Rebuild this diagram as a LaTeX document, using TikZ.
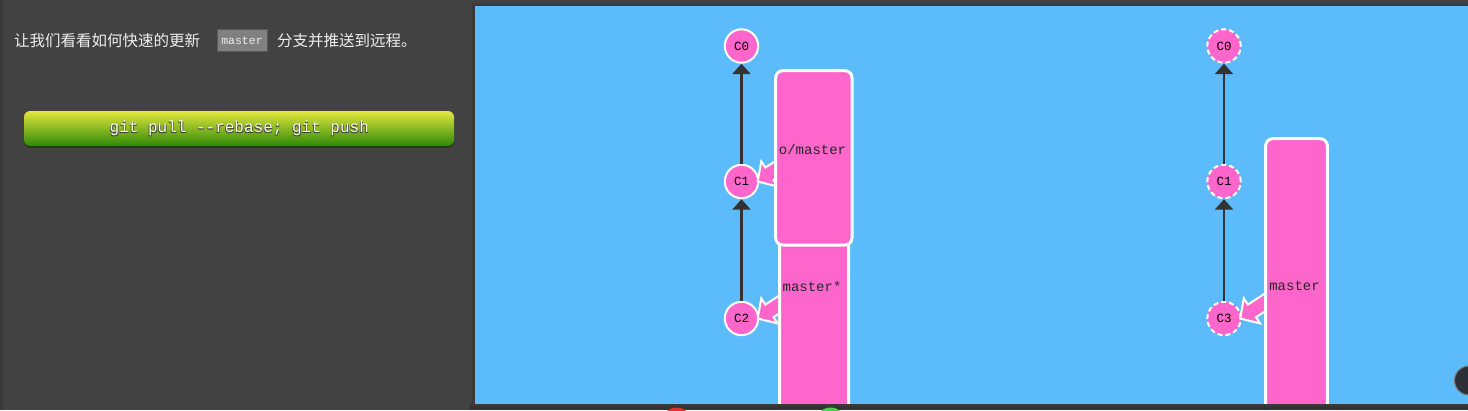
\documentclass[tikz,border=0pt]{standalone}
\usepackage{fontspec}
\setmonofont{Liberation Mono}
\newfontfamily\cjk{Noto Sans CJK SC}
\usetikzlibrary{arrows.meta}
\definecolor{bgdark}{RGB}{66,66,66}
\definecolor{edgedark}{RGB}{58,58,58}
\definecolor{stripdark}{RGB}{51,51,51}
\definecolor{panelblue}{RGB}{92,187,251}
\definecolor{commitpink}{RGB}{255,102,204}
\definecolor{linkgray}{RGB}{51,51,51}
\definecolor{textwhite}{RGB}{238,238,238}
\definecolor{tagfill}{RGB}{128,128,128}
\definecolor{tagline}{RGB}{90,90,90}
\definecolor{btntop}{RGB}{226,232,60}
\definecolor{btnmid}{RGB}{138,190,30}
\definecolor{btnbot}{RGB}{46,136,8}
\definecolor{btnshadow}{RGB}{34,50,20}
\definecolor{knobdark}{RGB}{45,48,56}
\definecolor{knobrim}{RGB}{120,120,125}
\definecolor{dotred}{RGB}{224,48,47}
\definecolor{dotgreen}{RGB}{76,211,76}
\tikzset{
  commit/.style={circle, fill=commitpink, draw=white, line width=2pt,
    minimum size=33.4pt, inner sep=0pt, text=black,
    font=\ttfamily\fontsize{12.5}{12.5}\selectfont},
  commitghost/.style={commit, dash pattern=on 5pt off 3pt},
  link/.style={draw=linkgray, line width=2.8pt,
    -{Triangle[width=18pt,length=10.5pt]}},
  branchbox/.style={rectangle, rounded corners=7pt, fill=commitpink,
    draw=white, line width=3pt, inner sep=0pt},
  branchtext/.style={text=black!85, inner sep=0pt,
    font=\ttfamily\fontsize{14}{14}\selectfont},
  brancharrow/.style={fill=commitpink, draw=white, line width=2pt, line join=miter},
  cjktext/.style={text=textwhite, inner sep=0pt, anchor=west,
    font=\cjk\fontsize{15.5}{18}\selectfont},
  btntext/.style={font=\ttfamily\fontsize{16}{16}\selectfont},
}
\newcommand\pointerat[1]{%
  \begin{scope}[shift={(#1)}, xshift=-1.5pt, rotate=33]
    \path[brancharrow] (0,0) -- (14,15) -- (14,7.5) -- (40,7.5) -- (40,-7.5)
      -- (14,-7.5) -- (14,-15) -- cycle;
  \end{scope}}
\begin{document}
\begin{tikzpicture}[x=1pt,y=-1pt]
\useasboundingbox (0,0) rectangle (1468,410);
\fill[bgdark] (0,0) rectangle (1468,410);
\fill[edgedark] (0,0) rectangle (3,410);
\fill[stripdark] (470,403.5) rectangle (1468,410);
\fill[edgedark] (472,3) rectangle (1468,406);
\fill[panelblue] (475,6) rectangle (1468,403.5);

% left text
\node[cjktext] (t1) at (14,41) {让我们看看如何快速的更新};
\node[fill=tagfill, draw=tagline, line width=1pt, minimum width=50pt,
  minimum height=22pt, inner sep=0pt, text=textwhite,
  font=\ttfamily\fontsize{11.5}{11.5}\selectfont] (tag) at (242,40.5) {master};
\node[cjktext] (t2) at (277,41) {分支并推送到远程。};

% button
\fill[btnshadow, rounded corners=6pt] (24,112.5) rectangle (454,147.5);
\shade[top color=btntop, middle color=btnmid, bottom color=btnbot,
  rounded corners=6pt] (24,111) rectangle (454,146);
\node[btntext, text=black!75] at (240,129.6) {git pull --rebase; git push};
\node[btntext, text=black!75] at (238.6,129.6) {git pull --rebase; git push};
\node[btntext, text=white!92!yellow] (btn) at (239.3,128.8) {git pull --rebase; git push};

\begin{scope}
\clip (475,6) rectangle (1468,403.5);
% left tree
\node[commit] (c0) at (741.5,46) {C0};
\node[commit] (c1) at (741.5,181.5) {C1};
\node[commit] (c2) at (741.5,318.5) {C2};
\draw[link] (c1) -- (c0);
\draw[link] (c2) -- (c1);
\pointerat{c2.east}
\node[branchbox, minimum width=69pt, minimum height=200pt, anchor=north west]
  (bmaster) at (778.2,232) {};
\pointerat{c1.east}
\node[branchbox, minimum width=76.3pt, minimum height=174.3pt, anchor=north west]
  (borigin) at (774.2,69.2) {};
\node[branchtext] (lorigin) at (812.5,149) {o/master};
\node[branchtext] (lmaster) at (812,286) {master*};

% right tree
\node[commitghost] (r0) at (1224,46) {C0};
\node[commitghost] (r1) at (1224,181.5) {C1};
\node[commitghost] (r3) at (1224,318.5) {C3};
\draw[link] (r1) -- (r0);
\draw[link] (r3) -- (r1);
\pointerat{r3.east}
\node[branchbox, minimum width=61.6pt, minimum height=300pt, anchor=north west]
  (bright) at (1264.2,137.2) {};
\node[branchtext] (lright) at (1294.5,286) {master};

% knob
\fill[knobdark, draw=knobrim, line width=1pt] (1469,380.5) circle (14.5);
\end{scope}

% bottom dots
\begin{scope}
\clip (0,0) rectangle (1468,410);
\fill[dotred] (676.5,422.5) circle (15);
\fill[dotgreen] (830.5,422.5) circle (15);
\end{scope}
\end{tikzpicture}
\end{document}
